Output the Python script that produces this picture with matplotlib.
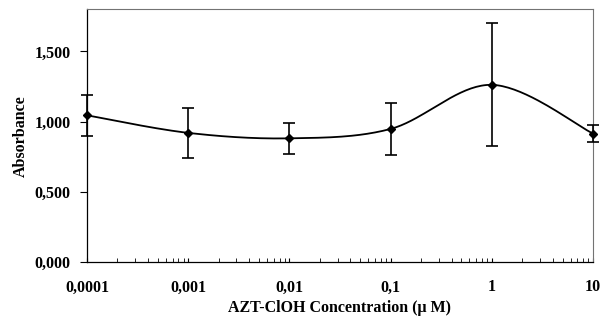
import numpy as np
import matplotlib
matplotlib.use("Agg")
import matplotlib.pyplot as plt
from matplotlib.ticker import FixedLocator, LogLocator, NullFormatter

# ---- data ----
concentrations = [0.0001, 0.001, 0.01, 0.1, 1, 10]
absorbance = [1.045, 0.920, 0.881, 0.948, 1.262, 0.915]
errors = [0.146, 0.177, 0.112, 0.185, 0.437, 0.063]
x_tick_labels = ["0,0001", "0,001", "0,01", "0,1", "1", "10"]
y_ticks = [0.0, 0.5, 1.0, 1.5]
y_tick_labels = ["0,000", "0,500", "1,000", "1,500"]

plt.rcParams['font.family'] = ['Liberation Serif', 'DejaVu Serif']
plt.rcParams['font.weight'] = 'bold'

fig = plt.figure(figsize=(6.1, 3.2), dpi=100)
ax = fig.add_axes([0.1426, 0.181, 0.8295, 0.790])

# Excel-style smoothed line (Bezier through the points, in log-x space)
lx = np.log10(concentrations)
yy = np.asarray(absorbance)
n = len(lx)
segx, segy = [], []
t = np.linspace(0, 1, 40)
for i in range(n - 1):
    p0 = np.array([lx[i], yy[i]])
    p3 = np.array([lx[i + 1], yy[i + 1]])
    pm = np.array([lx[max(i - 1, 0)], yy[max(i - 1, 0)]])
    pp = np.array([lx[min(i + 2, n - 1)], yy[min(i + 2, n - 1)]])
    c1 = p0 + (p3 - pm) / 6.0
    c2 = p3 - (pp - p0) / 6.0
    b = ((1 - t) ** 3)[:, None] * p0 + (3 * (1 - t) ** 2 * t)[:, None] * c1 \
        + (3 * (1 - t) * t ** 2)[:, None] * c2 + (t ** 3)[:, None] * p3
    segx.append(b[:, 0])
    segy.append(b[:, 1])
sx = 10 ** np.concatenate(segx)
sy = np.concatenate(segy)
ax.plot(sx, sy, color='black', lw=1.3, zorder=3)

eb = ax.errorbar(concentrations, absorbance, yerr=errors, fmt='D', color='black',
                 ms=4.5, ecolor='black', elinewidth=1.2, capsize=4, capthick=1.2,
                 zorder=4, clip_on=False)
for artist in eb.lines[1] + eb.lines[2]:
    artist.set_clip_on(False)
for coll in eb.lines[2]:
    coll.set_clip_on(False)

ax.set_xscale('log')
ax.set_xlim(1e-4, 10)
ax.set_ylim(0, 1.8)

ax.xaxis.set_major_locator(FixedLocator(concentrations))
ax.set_xticklabels(x_tick_labels)
ax.xaxis.set_minor_locator(LogLocator(base=10, subs=np.arange(2, 10)))
ax.xaxis.set_minor_formatter(NullFormatter())
ax.tick_params(axis='x', which='major', direction='in', length=3, width=0.8,
               pad=12.5, labelsize=11.5)
ax.tick_params(axis='x', which='minor', direction='in', length=3, width=0.6)

ax.set_yticks(y_ticks)
ax.set_yticklabels(y_tick_labels)
ax.tick_params(axis='y', which='major', direction='out', length=5, width=0.8,
               pad=7, labelsize=11.5)

for side in ['top', 'right']:
    ax.spines[side].set_color('0.45')
    ax.spines[side].set_linewidth(0.8)
for side in ['left', 'bottom']:
    ax.spines[side].set_linewidth(0.9)

ax.set_xlabel('AZT-ClOH Concentration (μ M)', fontsize=11.5, fontweight='bold',
              labelpad=3)
ax.set_ylabel('Absorbance', fontsize=11.5, fontweight='bold', labelpad=4)

fig.savefig('out.png', dpi=100)
